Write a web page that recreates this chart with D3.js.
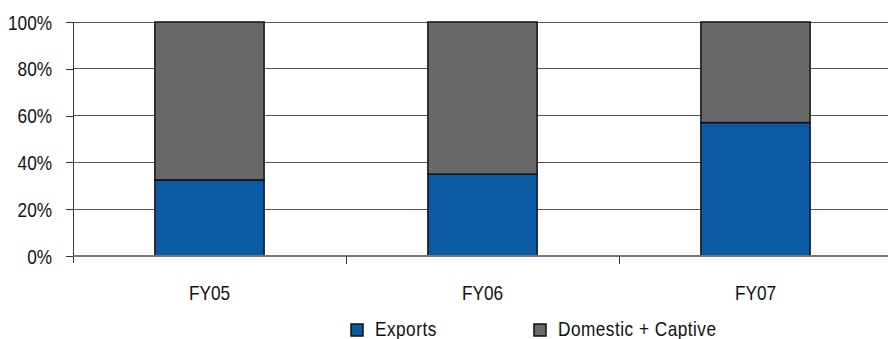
<!DOCTYPE html>
<html>
<head>
<meta charset="utf-8">
<script src="https://cdn.jsdelivr.net/npm/d3@7"></script>
<style>
  html, body { margin: 0; padding: 0; background: #fff; }
  svg { display: block; font-family: "Liberation Sans", Arial, sans-serif; }
</style>
</head>
<body>
<svg id="chart" width="888" height="339"></svg>
<script>
// Share of sales by year (percent of total)
const categories = ["FY05", "FY06", "FY07"];
const exportsShare = [32.5, 35, 57];
const domesticCaptiveShare = [67.5, 65, 43];
const seriesNames = ["Exports", "Domestic + Captive"];
const seriesColors = ["#0A5AA5", "#696969"];
const yTicks = [0, 20, 40, 60, 80, 100];

const svg = d3.select("#chart");
const margin = { left: 73, top: 22, plotRight: 892, bottom: 256 };
const fontSize = "21px";
const narrow = 0.82; // horizontal squeeze for a condensed look

const x = d3.scaleBand()
  .domain(categories)
  .range([margin.left, margin.plotRight])
  .paddingInner(0.6)
  .paddingOuter(0.3);

const y = d3.scaleLinear().domain([0, 100]).range([margin.bottom, margin.top]);

// Horizontal gridlines
svg.append("g")
  .selectAll("line")
  .data(yTicks.filter(d => d > 0))
  .join("line")
  .attr("x1", margin.left).attr("x2", 888)
  .attr("y1", d => y(d)).attr("y2", d => y(d))
  .attr("stroke", "#555").attr("stroke-width", 1)
  .attr("shape-rendering", "crispEdges");

// Stacked bars
const rows = categories.map((c, i) => ({ cat: c, Exports: exportsShare[i], "Domestic + Captive": domesticCaptiveShare[i] }));
const stacked = d3.stack().keys(seriesNames)(rows);

svg.append("g")
  .selectAll("g")
  .data(stacked)
  .join("g")
  .attr("fill", (d, i) => seriesColors[i])
  .selectAll("rect")
  .data(d => d)
  .join("rect")
  .attr("x", d => x(d.data.cat))
  .attr("width", x.bandwidth())
  .attr("y", d => y(d[1]))
  .attr("height", d => y(d[0]) - y(d[1]))
  .attr("stroke", "#111")
  .attr("stroke-width", 1.5);

// Y axis
const yAxis = d3.axisLeft(y)
  .tickValues(yTicks)
  .tickFormat(d => d + "%")
  .tickSize(7)
  .tickPadding(14);

const yg = svg.append("g")
  .attr("transform", `translate(${margin.left},0)`)
  .call(yAxis);
yg.select(".domain").remove();
yg.append("line")
  .attr("x1", 0).attr("x2", 0)
  .attr("y1", margin.top).attr("y2", margin.bottom + 7)
  .attr("stroke", "#333").attr("shape-rendering", "crispEdges");
yg.selectAll(".tick line").attr("stroke", "#333").attr("shape-rendering", "crispEdges");
yg.selectAll(".tick text")
  .attr("fill", "#111")
  .attr("dy", "0.34em")
  .style("font-size", fontSize)
  .style("font-family", null);

// X axis: baseline, boundary ticks between categories, labels
const xg = svg.append("g");
xg.append("line")
  .attr("x1", margin.left).attr("x2", 888)
  .attr("y1", margin.bottom).attr("y2", margin.bottom)
  .attr("stroke", "#777").attr("stroke-width", 1.5)
  .attr("shape-rendering", "crispEdges");

const boundaries = categories.slice(1).map(c => x(c) - x.step() * x.paddingInner() / 2);
xg.selectAll(".bt")
  .data(boundaries)
  .join("line")
  .attr("class", "bt")
  .attr("x1", d => d).attr("x2", d => d)
  .attr("y1", margin.bottom).attr("y2", margin.bottom + 8)
  .attr("stroke", "#333")
  .attr("shape-rendering", "crispEdges");

xg.selectAll("text")
  .data(categories)
  .join("text")
  .attr("x", d => x(d) + x.bandwidth() / 2)
  .attr("y", 300)
  .attr("text-anchor", "middle")
  .attr("fill", "#111")
  .style("font-size", fontSize)
  .text(d => d);

// Legend
const legendX = [351, 534];
const lg = svg.append("g")
  .selectAll("g")
  .data(seriesNames)
  .join("g")
  .attr("transform", (d, i) => `translate(${legendX[i]},324)`);
lg.append("rect")
  .attr("width", 12).attr("height", 12)
  .attr("fill", (d, i) => seriesColors[i])
  .attr("stroke", "#111").attr("stroke-width", 1.5);
lg.append("text")
  .attr("x", 24).attr("y", 12)
  .attr("fill", "#111")
  .style("font-size", fontSize)
  .style("letter-spacing", "0.6px")
  .text(d => d);

// Squeeze every label horizontally about its own anchor point
svg.selectAll("text").each(function () {
  const t = d3.select(this);
  const tx = +t.attr("x") || 0;
  const ty = +t.attr("y") || 0;
  t.attr("transform", `translate(${tx},${ty}) scale(${narrow},1) translate(${-tx},${-ty})`);
});
</script>
</body>
</html>
